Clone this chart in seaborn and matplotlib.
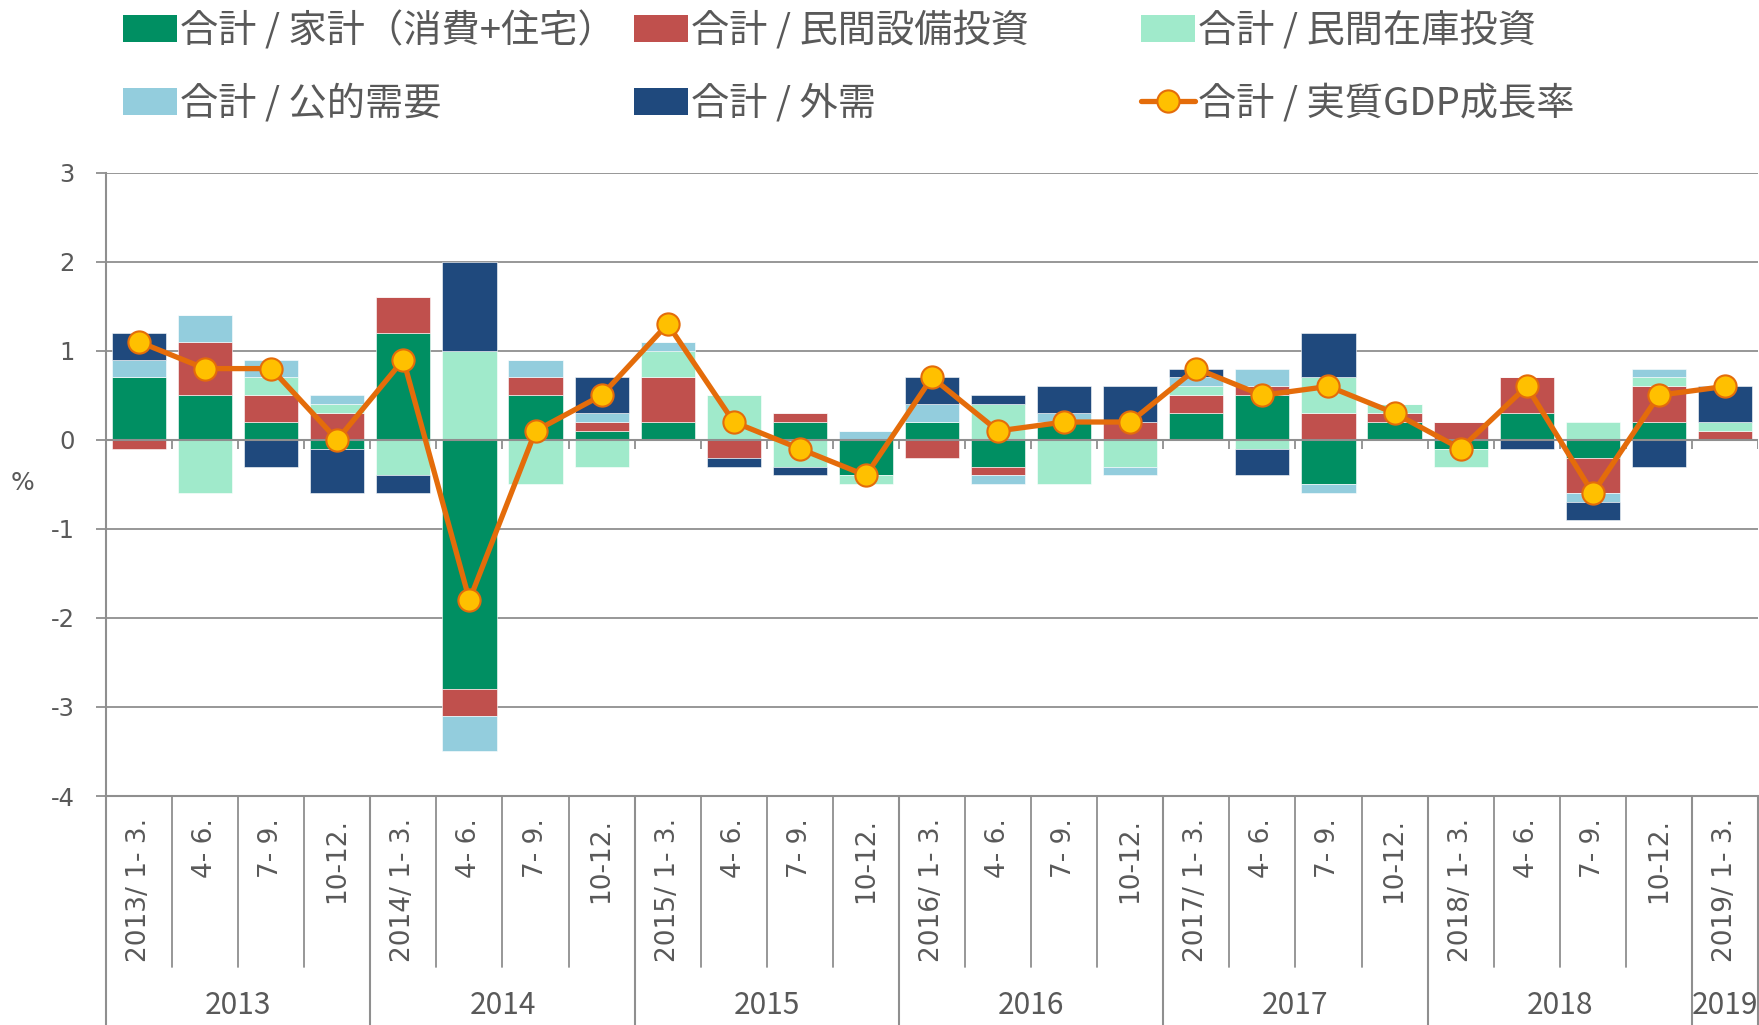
import numpy as np
import matplotlib
matplotlib.use('Agg')
import matplotlib.pyplot as plt
from matplotlib.patches import Patch
from matplotlib.lines import Line2D
import seaborn as sns

# 四半期ラベル
quarters = ['2013/ 1- 3.', '4- 6.', '7- 9.', '10-12.',
            '2014/ 1- 3.', '4- 6.', '7- 9.', '10-12.',
            '2015/ 1- 3.', '4- 6.', '7- 9.', '10-12.',
            '2016/ 1- 3.', '4- 6.', '7- 9.', '10-12.',
            '2017/ 1- 3.', '4- 6.', '7- 9.', '10-12.',
            '2018/ 1- 3.', '4- 6.', '7- 9.', '10-12.',
            '2019/ 1- 3.']
years = ['2013', '2014', '2015', '2016', '2017', '2018', '2019']
year_counts = [4, 4, 4, 4, 4, 4, 1]

# 寄与度 (%)
household = [0.7, 0.5, 0.2, -0.1, 1.2, -2.8, 0.5, 0.1, 0.2, 0.0, 0.2, -0.4, 0.2,
             -0.3, 0.2, 0.0, 0.3, 0.5, -0.5, 0.2, -0.1, 0.3, -0.2, 0.2, 0.0]
capex = [-0.1, 0.6, 0.3, 0.3, 0.4, -0.3, 0.2, 0.1, 0.5, -0.2, 0.1, 0.0, -0.2,
         -0.1, 0.0, 0.2, 0.2, 0.1, 0.3, 0.1, 0.2, 0.4, -0.4, 0.4, 0.1]
inventory = [0.0, -0.6, 0.2, 0.1, -0.4, 1.0, -0.5, -0.3, 0.3, 0.5, -0.3, -0.1, 0.0,
             0.4, -0.5, -0.3, 0.1, -0.1, 0.4, 0.1, -0.2, 0.0, 0.2, 0.1, 0.1]
public = [0.2, 0.3, 0.2, 0.1, 0.0, -0.4, 0.2, 0.1, 0.1, 0.0, 0.0, 0.1, 0.2,
          -0.1, 0.1, -0.1, 0.1, 0.2, -0.1, 0.0, 0.0, 0.0, -0.1, 0.1, 0.0]
external = [0.3, 0.0, -0.3, -0.5, -0.2, 1.0, 0.0, 0.4, 0.0, -0.1, -0.1, 0.0, 0.3,
            0.1, 0.3, 0.4, 0.1, -0.3, 0.5, 0.0, 0.0, -0.1, -0.2, -0.3, 0.4]
gdp = [1.1, 0.8, 0.8, 0.0, 0.9, -1.8, 0.1, 0.5, 1.3, 0.2, -0.1, -0.4, 0.7,
       0.1, 0.2, 0.2, 0.8, 0.5, 0.6, 0.3, -0.1, 0.6, -0.6, 0.5, 0.6]

series_names = ['合計 / 家計（消費+住宅）', '合計 / 民間設備投資', '合計 / 民間在庫投資',
                '合計 / 公的需要', '合計 / 外需']
line_name = '合計 / 実質GDP成長率'
series_colors = ['#008F62', '#C0504D', '#A0EACB', '#93CDDD', '#1F497D']
line_color = '#E46C0A'
marker_color = '#FFC000'
grid_color = '#8F8F8F'
text_color = '#595959'

sns.set_theme(style='white')
plt.rcParams['font.family'] = ['DejaVu Sans', 'Noto Sans CJK JP']
cjk = ['Noto Sans CJK JP', 'DejaVu Sans']

W, H = 1759, 1025
fig = plt.figure(figsize=(W / 100, H / 100), dpi=100)
ax_l, ax_r, ax_t, ax_b = 106, 1758, 172.7, 796
ax = fig.add_axes([ax_l / W, 1 - ax_b / H, (ax_r - ax_l) / W, (ax_b - ax_t) / H])
ax_h = ax_b - ax_t

x = np.arange(len(quarters))

# 積み上げ棒 (正と負を別々に積む)
pos_bottom = np.zeros(len(x))
neg_bottom = np.zeros(len(x))
for vals, col in zip([household, capex, inventory, public, external], series_colors):
    v = np.array(vals)
    bottom = np.where(v >= 0, pos_bottom, neg_bottom)
    ax.bar(x, v, width=0.82, bottom=bottom, color=col, edgecolor='#ffffff',
           linewidth=0.4, zorder=2)
    pos_bottom += np.where(v > 0, v, 0)
    neg_bottom += np.where(v < 0, v, 0)

# GDP成長率
sns.lineplot(x=x, y=gdp, ax=ax, color=line_color, linewidth=3.8, marker='o',
             markersize=16, markerfacecolor=marker_color, markeredgecolor=line_color,
             markeredgewidth=1.5, zorder=5, legend=False)

ax.set_xlim(-0.5, len(x) - 0.5)
ax.set_ylim(-4, 3)
ax.set_yticks(range(-4, 4))
ax.set_yticklabels([str(t) for t in range(-4, 4)])
ax.grid(axis='y', color=grid_color, linewidth=1.3, zorder=0)
ax.grid(axis='x', visible=False)
ax.axhline(0, color=grid_color, linewidth=1.5, zorder=3)
ax.vlines(np.arange(len(x)) + 0.5, -0.1, 0, color=grid_color, linewidth=1.3, zorder=3)
ax.tick_params(axis='y', length=7.5, width=1.3, color=grid_color, pad=15,
               labelsize=17.5, labelcolor=text_color, left=True)
ax.set_xticks([])
for s in ['top', 'right']:
    ax.spines[s].set_visible(False)
for s in ['left', 'bottom']:
    ax.spines[s].set_color(grid_color)
    ax.spines[s].set_linewidth(1.5)
ax.set_xlabel('')
ax.set_ylabel('')

# カテゴリ軸 (四半期と年)
tr = ax.get_xaxis_transform()
for i, q in enumerate(quarters):
    ax.text(i, -(818 - ax_b) / ax_h, q, transform=tr, rotation=90, ha='center',
            va='top', fontsize=19, color=text_color)
inner_end = -(966.7 - ax_b) / ax_h
outer_end = -(H - ax_b) / ax_h
year_bounds = np.concatenate([[0], np.cumsum(year_counts)]) - 0.5
for b in np.arange(len(x) - 1) + 0.5:
    if b not in year_bounds:
        ax.plot([b, b], [0, inner_end], transform=tr, color=grid_color,
                linewidth=1.3, clip_on=False)
for b in year_bounds:
    ax.plot([b, b], [0, outer_end], transform=tr, color=grid_color,
            linewidth=1.5, clip_on=False)
for y, lo, hi in zip(years, year_bounds[:-1], year_bounds[1:]):
    ax.text((lo + hi) / 2, -(1005.7 - ax_b) / ax_h, y, transform=tr, ha='center',
            va='center', fontsize=21.5, color=text_color, family=cjk)

fig.text(22 / W, 1 - 483 / H, '%', ha='center', va='center', fontsize=18,
         color=text_color)

# 凡例 (3列 x 2行)
handles = [Patch(facecolor=c, edgecolor='none') for c in series_colors]
handles.append(Line2D([0], [0], color=line_color, linewidth=3.8, marker='o',
                      markersize=16, markerfacecolor=marker_color,
                      markeredgecolor=line_color, markeredgewidth=1.5))
labels = series_names + [line_name]
columns = [(0, 3, 123), (1, 4, 634), (2, 5, 1141)]
for a, b, xpix in columns:
    leg = fig.legend([handles[a], handles[b]], [labels[a], labels[b]],
                     loc='upper left', bbox_to_anchor=(xpix / W, 1 - 12 / H),
                     frameon=False, borderpad=0, borderaxespad=0,
                     handlelength=1.42, handleheight=0.7, handletextpad=0.08,
                     labelspacing=0.88, prop={'family': cjk, 'size': 27.5})
    for t in leg.get_texts():
        t.set_color(text_color)

fig.savefig('out.png', dpi=100)
